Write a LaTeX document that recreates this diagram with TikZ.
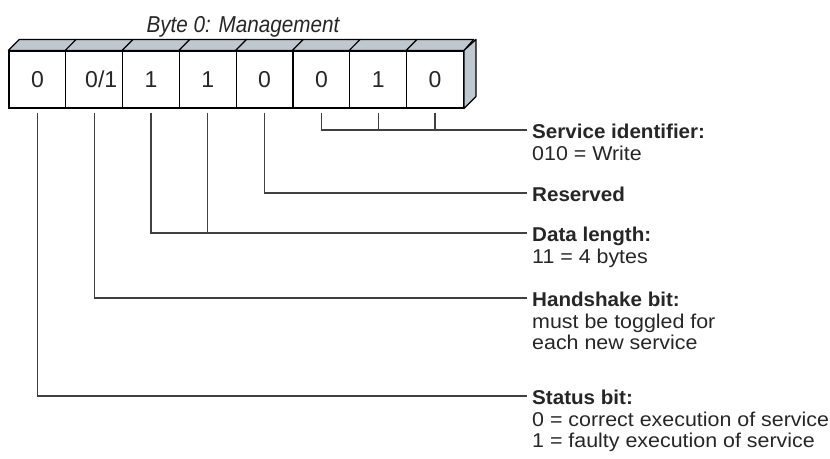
\documentclass[tikz,border=0pt]{standalone}
\usepackage{fontspec}
\setmainfont{Liberation Sans}
\newfontfamily\labfont{Liberation Sans}[FakeStretch=1.07]
\newfontfamily\labbold{Liberation Sans Bold}[FakeStretch=1.03]
\newfontfamily\digfont{Liberation Sans}
\newfontfamily\titfont{Liberation Sans Italic}[FakeStretch=0.9]
\definecolor{facegray}{HTML}{BEC8CE}
\definecolor{linegray}{HTML}{404040}
\begin{document}
\begin{tikzpicture}[x=1pt,y=-1pt,
  bitbox/.style={draw=black, line width=1.2pt, minimum width=56.8pt, minimum height=57pt, inner sep=0pt,
    text=black!85, font=\digfont\fontsize{23}{23}\selectfont},
  face/.style={draw=black, line width=1.2pt, fill=facegray, line join=round},
  conn/.style={draw=linegray, line width=1.3pt},
  lab/.style={anchor=north west, inner sep=0pt, align=left, text=black!85,
    font=\labfont\fontsize{20}{21.5}\selectfont}]
\useasboundingbox (0,0) rectangle (830,458);
% title
\node[font=\titfont\fontsize{23}{23}\selectfont, text=black!85, anchor=base] (title) at (243,32.5) {Byte 0: Management};
% bit boxes
\node[bitbox] (b1) at (37.4,79.5) {0};
\node[bitbox] (b2) at (94.2,79.5) {\hspace*{14pt}0/1};
\node[bitbox] (b3) at (151.0,79.5) {1};
\node[bitbox] (b4) at (207.8,79.5) {1};
\node[bitbox] (b5) at (264.6,79.5) {0};
\node[bitbox] (b6) at (321.4,79.5) {0};
\node[bitbox] (b7) at (378.2,79.5) {1};
\node[bitbox] (b8) at (435.0,79.5) {0};
\foreach \i in {1,...,8}
  \draw[face] (b\i.north west) -- ++(11,-11) -- ++(56.8,0) -- (b\i.north east) -- cycle;
\draw[face] (b8.north east) -- ++(12,-11) -- ++(0,57) -- (b8.south east) -- cycle;
% labels
\node[lab] (lS) at (532,124) {{\labbold Service identifier:}\\010 = Write};
\node[lab] (lR) at (532,187) {{\labbold Reserved}};
\node[lab] (lD) at (532,227) {{\labbold Data length:}\\11 = 4 bytes};
\node[lab] (lH) at (532,292) {{\labbold Handshake bit:}\\must be toggled for\\each new service};
\node[lab] (lT) at (532,390) {{\labbold Status bit:}\\0 = correct execution of service\\1 = faulty execution of service};
% connector ends
\coordinate (eS) at (527,130);
\coordinate (eR) at (527,193);
\coordinate (eD) at (527,233);
\coordinate (eH) at (527,298);
\coordinate (eT) at (527,396);
% connectors
\draw[conn] ([yshift=-4pt]b6.south) |- (eS);
\draw[conn] ([yshift=-4pt]b7.south) -- (b7.south |- eS);
\draw[conn] ([yshift=-4pt]b8.south) -- (b8.south |- eS);
\draw[conn] ([yshift=-4pt]b5.south) |- (eR);
\draw[conn] ([yshift=-4pt]b3.south) |- (eD);
\draw[conn] ([yshift=-4pt]b4.south) -- (b4.south |- eD);
\draw[conn] ([yshift=-4pt]b2.south) |- (eH);
\draw[conn] ([yshift=-4pt]b1.south) |- (eT);
\end{tikzpicture}
\end{document}
